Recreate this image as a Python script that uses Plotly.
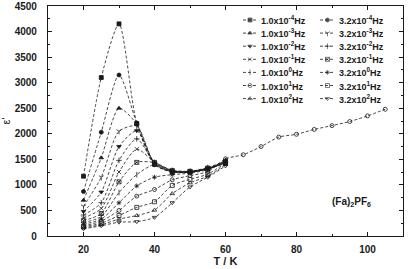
import plotly.graph_objects as go

# ---------------- data ----------------
temps = [20, 25, 30, 35, 40, 45, 50, 55, 60]
temps_high = [65, 70, 75, 80, 85, 90, 95, 100, 105]

freq_labels = [
    "1.0x10<sup>-4</sup>Hz", "3.2x10<sup>-4</sup>Hz",
    "1.0x10<sup>-3</sup>Hz", "3.2x10<sup>-3</sup>Hz",
    "1.0x10<sup>-2</sup>Hz", "3.2x10<sup>-2</sup>Hz",
    "1.0x10<sup>-1</sup>Hz", "3.2x10<sup>-1</sup>Hz",
    "1.0x10<sup>0</sup>Hz", "3.2x10<sup>0</sup>Hz",
    "1.0x10<sup>1</sup>Hz", "3.2x10<sup>1</sup>Hz",
    "1.0x10<sup>2</sup>Hz", "3.2x10<sup>2</sup>Hz",
]

eps_1e_4 = [1170, 3100, 4150, 2200, 1400, 1250, 1250, 1310, 1430]
eps_3e_4 = [870, 2030, 3150, 2210, 1400, 1250, 1250, 1310, 1430]
eps_1e_3 = [700, 1530, 2500, 2190, 1410, 1255, 1250, 1310, 1430]
eps_3e_3 = [580, 1150, 2050, 2150, 1420, 1260, 1255, 1315, 1435]
eps_1e_2 = [480, 860, 1750, 2060, 1430, 1265, 1255, 1315, 1440]
eps_3e_2 = [410, 650, 1480, 1900, 1440, 1270, 1260, 1320, 1445]
eps_1e_1 = [350, 540, 1250, 1700, 1450, 1275, 1260, 1325, 1450]
eps_3e_1 = [300, 440, 1060, 1440, 1435, 1280, 1265, 1330, 1460]
eps_1e0 = [260, 380, 850, 1200, 1400, 1285, 1266, 1340, 1470]
eps_3e0 = [230, 330, 650, 980, 1150, 1200, 1230, 1300, 1480]
eps_1e1 = [200, 290, 500, 780, 910, 1100, 1180, 1260, 1510]
eps_3e1 = [180, 250, 400, 560, 670, 990, 1110, 1210, 1430]
eps_1e2 = [160, 220, 330, 400, 506, 830, 1040, 1170, 1400]
eps_3e2 = [140, 200, 270, 280, 364, 650, 960, 1150, 1370]
eps_1e1_high = [1590, 1750, 1935, 1990, 2085, 2160, 2240, 2350, 2480]

series = [eps_1e_4, eps_3e_4, eps_1e_3, eps_3e_3, eps_1e_2, eps_3e_2, eps_1e_1,
          eps_3e_1, eps_1e0, eps_3e0, eps_1e1, eps_3e1, eps_1e2, eps_3e2]

# ---------------- styles ----------------
symbols = ["square", "circle", "triangle-up", "y-down-open", "triangle-down",
           "cross-thin-open", "x-thin-open", "square-x-open", "line-ns-open",
           "asterisk-open", "circle-open", "square-open", "triangle-up-open",
           "triangle-down-open"]
INK = "#1a1a1a"
FONT = "Liberation Sans"
W, H = 409, 269
ML, MR, MT, MB = 48, 6, 6, 33
PW, PH = W - ML - MR, H - MT - MB

def px_x(p):
    return (p - ML) / PW

def px_y(p):
    return (H - MB - p) / PH

fig = go.Figure()

for i, vals in enumerate(series):
    xs = list(temps)
    ys = list(vals)
    if i == 10:
        xs += temps_high
        ys += eps_1e1_high
    fig.add_trace(go.Scatter(
        x=xs, y=ys, mode="lines+markers",
        line=dict(color=INK, width=0.8, dash="3px,2px", shape="spline", smoothing=0.7),
        marker=dict(symbol=symbols[i], size=4, color=INK, line=dict(color=INK, width=0.8)),
        showlegend=False, hoverinfo="skip",
    ))

# ---- hand-built legend (two columns) on an overlay axis ----
col_sample = [(243, 257), (320, 335)]
col_text = [259, 337]
row_y0, row_step = 20, 13.1
for i, lab in enumerate(freq_labels):
    col = i % 2
    row = i // 2
    yy = px_y(row_y0 + row * row_step)
    x0, x1 = px_x(col_sample[col][0]), px_x(col_sample[col][1])
    fig.add_trace(go.Scatter(
        x=[x0, (x0 + x1) / 2, x1], y=[yy, yy, yy], xaxis="x2", yaxis="y2",
        mode="lines+markers",
        line=dict(color=INK, width=0.8, dash="3px,2px"),
        marker=dict(symbol=symbols[i], size=[0, 4, 0], color=INK,
                    line=dict(color=INK, width=0.8)),
        showlegend=False, hoverinfo="skip",
    ))
    fig.add_annotation(
        x=px_x(col_text[col]), y=yy, xref="paper", yref="paper",
        text=lab, showarrow=False, xanchor="left", yanchor="middle",
        font=dict(family=FONT, size=9, color=INK, weight="bold"),
    )

fig.add_annotation(
    x=95.4, y=660, xref="x", yref="y", text="(Fa)<sub>2</sub>PF<sub>6</sub>",
    showarrow=False, font=dict(family=FONT, size=10, color=INK, weight="bold"),
)

axis_common = dict(
    showgrid=False, zeroline=False, showline=True, linecolor=INK, linewidth=1.2,
    mirror="ticks", ticks="inside", ticklen=4, tickwidth=1, tickcolor=INK,
    tickfont=dict(family=FONT, size=10, color=INK, weight="bold"),
    automargin=False, ticklabeloverflow="allow",
)

fig.update_layout(
    width=W, height=H,
    margin=dict(l=ML, r=MR, t=MT, b=MB, autoexpand=False),
    plot_bgcolor="white", paper_bgcolor="white",
    showlegend=False,
    xaxis=dict(range=[10, 110], tick0=0, dtick=20,
               minor=dict(dtick=10, ticks="inside", ticklen=2, tickcolor=INK),
               ticklabelstandoff=4,
               title=dict(text="T / K", standoff=2,
                          font=dict(family=FONT, size=11, color=INK, weight="bold")),
               **axis_common),
    yaxis=dict(range=[0, 4500], dtick=500,
               minor=dict(dtick=250, ticks="inside", ticklen=2, tickcolor=INK),
               title=dict(text="ε'", standoff=1,
                          font=dict(family=FONT, size=11, color=INK)),
               ticklabelstandoff=8,
               **axis_common),
    xaxis2=dict(range=[0, 1], overlaying="x", anchor="y2", visible=False),
    yaxis2=dict(range=[0, 1], overlaying="y", anchor="x2", visible=False),
)

fig.write_html("out.html", config={"displayModeBar": False},
               post_script="document.body.style.margin='0px';")
